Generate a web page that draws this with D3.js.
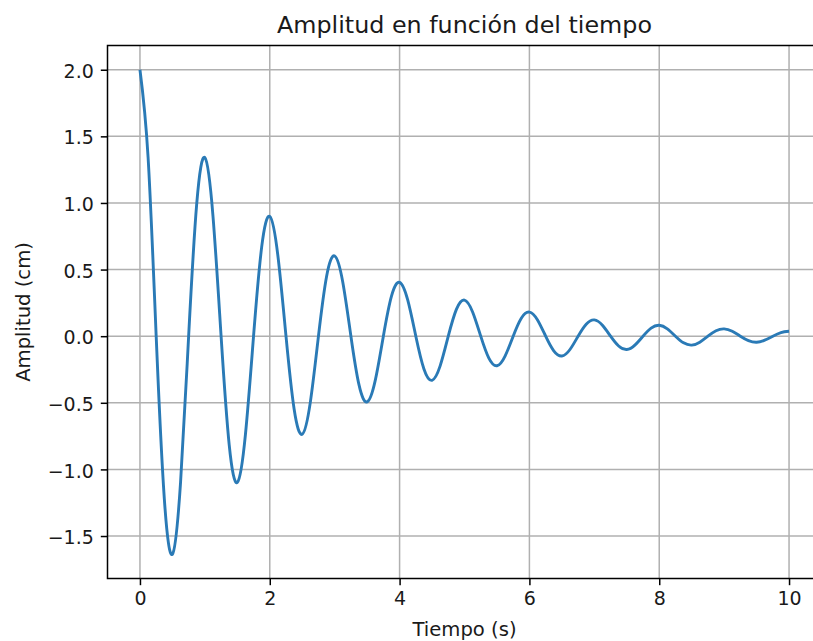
<!DOCTYPE html>
<html>
<head>
<meta charset="utf-8">
<script src="https://cdn.jsdelivr.net/npm/d3@7"></script>
<style>
  body { margin: 0; background: #fff; }
  svg { display: block; font-family: "DejaVu Sans", sans-serif; }
</style>
</head>
<body>
<div id="chart"></div>
<script>
// Data (time in s, amplitude in cm)
const tiempo = [
  0, 0.125, 0.25, 0.375, 0.5, 0.625, 0.75, 0.875,
  1, 1.125, 1.25, 1.375, 1.5, 1.625, 1.75, 1.875,
  2, 2.125, 2.25, 2.375, 2.5, 2.625, 2.75, 2.875,
  3, 3.125, 3.25, 3.375, 3.5, 3.625, 3.75, 3.875,
  4, 4.125, 4.25, 4.375, 4.5, 4.625, 4.75, 4.875,
  5, 5.125, 5.25, 5.375, 5.5, 5.625, 5.75, 5.875,
  6, 6.125, 6.25, 6.375, 6.5, 6.625, 6.75, 6.875,
  7, 7.125, 7.25, 7.375, 7.5, 7.625, 7.75, 7.875,
  8, 8.125, 8.25, 8.375, 8.5, 8.625, 8.75, 8.875,
  9, 9.125, 9.25, 9.375, 9.5, 9.625, 9.75, 9.875,
  10
];
const amplitud = [
  2.00, 1.345, 0, -1.217, -1.637, -1.101, 0, 0.996,
  1.341, 0.902, 0, -0.816, -1.098, -0.738, 0, 0.668,
  0.899, 0.604, 0, -0.547, -0.736, -0.495, 0, 0.448,
  0.602, 0.405, 0, -0.366, -0.493, -0.332, 0, 0.300,
  0.404, 0.272, 0, -0.246, -0.331, -0.223, 0, 0.201,
  0.271, 0.182, 0, -0.165, -0.222, -0.149, 0, 0.135,
  0.181, 0.122, 0, -0.110, -0.149, -0.100, 0, 0.090,
  0.122, 0.082, 0, -0.074, -0.100, -0.067, 0, 0.061,
  0.082, 0.055, 0, -0.050, -0.067, -0.045, 0, 0.041,
  0.055, 0.037, 0, -0.033, -0.045, -0.030, 0, 0.027,
  0.037
];
const xTicks = [0, 2, 4, 6, 8, 10];
const yTicks = [-1.5, -1.0, -0.5, 0.0, 0.5, 1.0, 1.5, 2.0];

const title = "Amplitud en función del tiempo";
const xLabel = "Tiempo (s)";
const yLabel = "Amplitud (cm)";

const width = 813, height = 641;
const margin = { top: 45.5, right: -8.5, bottom: 62.5, left: 107.5 };
const fontSize = 19;

const data = tiempo.map((t, i) => ({ t: t, y: amplitud[i] }));

const svg = d3.select("#chart").append("svg")
  .attr("width", width)
  .attr("height", height);

// matplotlib-like 5% margins around the data
const xExt = d3.extent(tiempo), yExt = d3.extent(amplitud);
const xPad = (xExt[1] - xExt[0]) * 0.05, yPad = (yExt[1] - yExt[0]) * 0.05;

const x = d3.scaleLinear()
  .domain([xExt[0] - xPad, xExt[1] + xPad])
  .range([margin.left, width - margin.right]);
const y = d3.scaleLinear()
  .domain([yExt[0] - yPad, yExt[1] + yPad])
  .range([height - margin.bottom, margin.top]);

const x0 = x.range()[0], x1 = x.range()[1];
const y0 = y.range()[0], y1 = y.range()[1];

// grid
svg.append("g").selectAll("line").data(xTicks).join("line")
  .attr("x1", d => x(d)).attr("x2", d => x(d))
  .attr("y1", y1).attr("y2", y0)
  .attr("stroke", "#b0b0b0").attr("stroke-width", 1.5);
svg.append("g").selectAll("line").data(yTicks).join("line")
  .attr("x1", x0).attr("x2", x1)
  .attr("y1", d => y(d)).attr("y2", d => y(d))
  .attr("stroke", "#b0b0b0").attr("stroke-width", 1.5);

// the line
const line = d3.line()
  .x(d => x(d.t))
  .y(d => y(d.y))
  .curve(d3.curveNatural);

svg.append("path")
  .datum(data)
  .attr("d", line)
  .attr("fill", "none")
  .attr("stroke", "#2a7ab6")
  .attr("stroke-width", 2.9)
  .attr("stroke-linejoin", "round")
  .attr("stroke-linecap", "butt");

// axes
const xAxis = svg.append("g")
  .attr("transform", "translate(0," + y0 + ")")
  .call(d3.axisBottom(x).tickValues(xTicks).tickFormat(d3.format("d"))
    .tickSizeInner(6.7).tickSizeOuter(0).tickPadding(6));
const yAxis = svg.append("g")
  .attr("transform", "translate(" + x0 + ",0)")
  .call(d3.axisLeft(y).tickValues(yTicks).tickFormat(d => d3.format(".1f")(d).replace("-", "\u2212"))
    .tickSizeInner(6.7).tickSizeOuter(0).tickPadding(7));

[xAxis, yAxis].forEach(a => {
  a.select(".domain").remove();
  a.selectAll(".tick line").attr("stroke", "#000").attr("stroke-width", 1.5);
  a.selectAll(".tick text").attr("fill", "#1a1a1a")
    .style("font-size", fontSize + "px")
    .style("font-family", "DejaVu Sans");
});
yAxis.selectAll(".tick text").attr("dy", "0.40em");

// spines
svg.append("rect")
  .attr("x", x0).attr("y", y1)
  .attr("width", x1 - x0).attr("height", y0 - y1)
  .attr("fill", "none")
  .attr("stroke", "#000")
  .attr("stroke-width", 1.5);

// labels
svg.append("text")
  .attr("x", (x0 + x1) / 2).attr("y", 33)
  .attr("text-anchor", "middle")
  .attr("fill", "#1a1a1a")
  .style("font-size", "23.8px")
  .text(title);

svg.append("text")
  .attr("x", (x0 + x1) / 2).attr("y", 636)
  .attr("text-anchor", "middle")
  .attr("fill", "#1a1a1a")
  .style("font-size", "19.6px")
  .text(xLabel);

svg.append("text")
  .attr("transform", "translate(30," + ((y0 + y1) / 2) + ") rotate(-90)")
  .attr("text-anchor", "middle")
  .attr("fill", "#1a1a1a")
  .style("font-size", "19.6px")
  .text(yLabel);
</script>
</body>
</html>
